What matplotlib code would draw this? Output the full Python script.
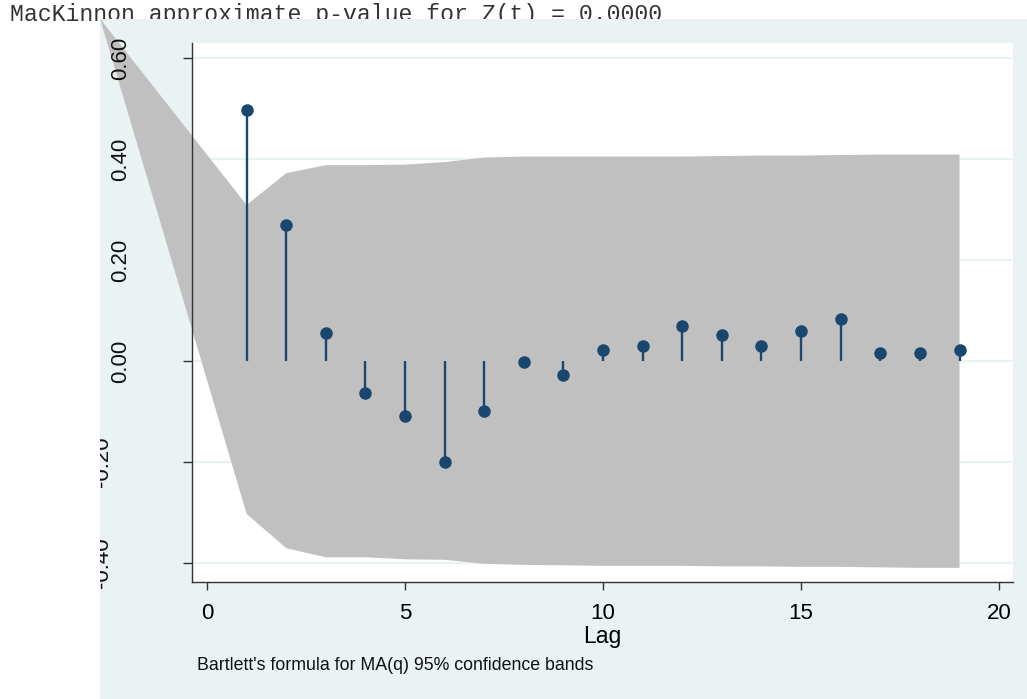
import numpy as np
import matplotlib.pyplot as plt
from matplotlib.patches import Rectangle
from matplotlib.transforms import blended_transform_factory

# autocorrelations
lags = np.arange(1, 20)
acf = [0.497, 0.270, 0.055, -0.063, -0.109, -0.201, -0.100, -0.002, -0.028,
       0.021, 0.029, 0.069, 0.051, 0.029, 0.059, 0.084, 0.016, 0.016, 0.021]

# Bartlett 95% band
band_upper = [0.309, 0.372, 0.388, 0.388, 0.389, 0.394, 0.403, 0.405, 0.405,
              0.405, 0.405, 0.405, 0.406, 0.407, 0.407, 0.408, 0.409, 0.409, 0.409]
band_lower = [-0.303, -0.371, -0.389, -0.389, -0.393, -0.394, -0.402, -0.404, -0.405,
              -0.406, -0.406, -0.406, -0.407, -0.407, -0.408, -0.408, -0.409, -0.410, -0.410]
band_apex_lag = -2.7
band_apex_val = 0.678

yticks = [-0.4, -0.2, 0.0, 0.2, 0.4, 0.6]
xticks = [0, 5, 10, 15, 20]

header = "MacKinnon approximate p-value for Z(t) = 0.0000"
note = "Bartlett's formula for MA(q) 95% confidence bands"

W, H = 1027, 699
panel_col = "#EAF2F3"
navy = "#1A476F"

fig = plt.figure(figsize=(W / 100, H / 100), dpi=100)
fig.patch.set_facecolor("white")

fig.text(10 / W, 1 - 21 / H, header, family="Liberation Mono", fontsize=16.7,
         color="#333333", ha="left", va="baseline", zorder=-2)

panel = Rectangle((100 / W, 0), 1 - 100 / W, 1 - 19 / H, transform=fig.transFigure,
                  facecolor=panel_col, edgecolor="none", zorder=-1)
fig.add_artist(panel)

ax = fig.add_axes([192 / W, 1 - 582 / H, (1013 - 192) / W, (582 - 43) / H])
ax.set_facecolor("white")
ax.set_xlim(-0.379, 20.35)
ax.set_ylim(-0.438, 0.630)

# band polygon (extends past the axes, clipped at the panel)
bx = [band_apex_lag] + list(lags) + list(lags[::-1])
by = [band_apex_val] + band_upper + band_lower[::-1]
poly = ax.fill(bx, by, color="#C0C0C0", lw=0, zorder=1)[0]
poly.set_clip_path(panel)

ax.vlines(lags, 0, acf, color=navy, lw=1.7, zorder=3)
ax.plot(lags, acf, "o", color=navy, ms=8, zorder=4)

ax.set_axisbelow(True)
ax.yaxis.grid(True, color=panel_col, lw=1.6)
ax.set_yticks(yticks)
ax.set_yticklabels([])
ax.set_xticks(xticks)
ax.set_xticklabels([str(t) for t in xticks], family="Liberation Sans", fontsize=16)

for s in ["top", "right"]:
    ax.spines[s].set_visible(False)
for s in ["left", "bottom"]:
    ax.spines[s].set_color("#333333")
    ax.spines[s].set_linewidth(1.0)
ax.tick_params(axis="y", length=6.5, width=1.0, color="#333333")
ax.tick_params(axis="x", length=6, width=1.0, color="#333333", pad=9)

# rotated y tick labels, clipped at the panel edge like the original
trans = blended_transform_factory(ax.transAxes, ax.transData)
for v in yticks:
    xpos = -0.0875 if v >= 0 else -0.1096
    t = ax.text(xpos, v, "%.2f" % v, transform=trans, rotation=90, ha="center",
                va="center", family="Liberation Sans", fontsize=16, color="#111111")
    t.set_clip_path(panel)
    t.set_clip_on(True)

ax.set_xlabel("Lag", family="Liberation Sans", fontsize=16.5, labelpad=1)

fig.text(197 / W, 1 - 670 / H, note, family="Liberation Sans", fontsize=12.8,
         ha="left", va="baseline", color="#111111")

fig.savefig("out.png", dpi=100)
